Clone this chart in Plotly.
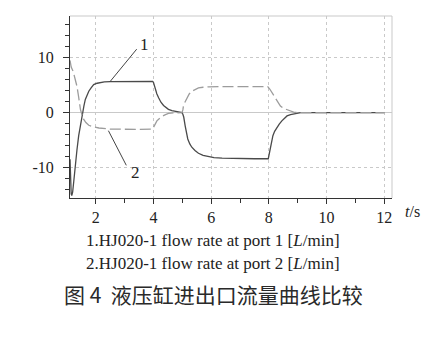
import plotly.graph_objects as go

# ---- data ----
t_port1 = [1.11, 1.13, 1.15, 1.17, 1.20, 1.24, 1.29, 1.35, 1.41, 1.47, 1.53, 1.59, 1.64, 1.70,
           1.76, 1.84, 1.93, 2.05, 2.16, 2.30, 2.50, 3.00, 3.50, 3.97, 4.00, 4.03, 4.06, 4.12,
           4.18, 4.26, 4.35, 4.44, 4.52, 4.64, 4.76, 4.88, 4.99, 5.02, 5.05, 5.10, 5.15, 5.19,
           5.26, 5.33, 5.44, 5.56, 5.72, 5.91, 6.10, 6.38, 7.00, 7.50, 7.98, 8.01, 8.05, 8.10,
           8.14, 8.20, 8.28, 8.36, 8.45, 8.54, 8.63, 8.75, 8.86, 9.00, 9.10, 9.50, 10.0, 11.0, 12.0]
q_port1 = [-8.5, -12.5, -14.8, -15.1, -14.5, -12.5, -9.6, -6.8, -4.2, -2.1, -0.3, 1.2, 2.4, 3.2,
           3.9, 4.5, 5.1, 5.35, 5.5, 5.6, 5.65, 5.7, 5.7, 5.7, 5.5, 4.9, 4.2, 3.4,
           2.7, 1.9, 1.3, 0.9, 0.6, 0.35, 0.2, 0.08, 0.0, -0.3, -0.8, -2.4, -3.8, -4.8,
           -5.7, -6.3, -6.9, -7.4, -7.8, -8.0, -8.2, -8.3, -8.4, -8.4, -8.4, -7.6, -6.9, -5.4,
           -4.2, -3.4, -2.7, -2.1, -1.5, -1.0, -0.6, -0.35, -0.2, -0.08, 0.0, 0.0, 0.0, 0.0, 0.0]

t_port2 = [1.11, 1.15, 1.22, 1.28, 1.35, 1.41, 1.47, 1.53, 1.58, 1.66, 1.76, 1.93, 2.11, 2.50,
           3.00, 3.50, 3.97, 4.04, 4.12, 4.20, 4.29, 4.40, 4.52, 4.70, 4.99, 5.02, 5.04, 5.10,
           5.16, 5.24, 5.33, 5.44, 5.56, 5.72, 5.91, 6.38, 7.00, 7.96, 8.03, 8.11, 8.23, 8.30,
           8.40, 8.50, 8.63, 8.75, 8.86, 9.00, 9.50, 10.0, 11.0, 12.0]
q_port2 = [9.5, 8.3, 7.5, 6.4, 4.8, 2.8, 0.6, -0.5, -1.2, -1.8, -2.3, -2.6, -2.8, -3.0,
           -3.05, -3.05, -3.0, -2.3, -1.5, -1.1, -0.7, -0.4, -0.15, -0.05, 0.0, 0.5, 1.2, 2.0,
           2.7, 3.4, 3.9, 4.25, 4.5, 4.62, 4.7, 4.75, 4.75, 4.75, 4.3, 3.6, 2.7, 2.0,
           1.2, 0.8, 0.5, 0.25, 0.08, 0.0, 0.0, 0.0, 0.0, 0.0]

x_ticks = [2, 4, 6, 8, 10, 12]
y_ticks = [-10, 0, 10]
y_tick_labels = ["-10", "0", "10"]

legend_line1 = "1.HJ020-1 flow rate at port 1 [<i>L</i>/min]"
legend_line2 = "2.HJ020-1 flow rate at port 2 [<i>L</i>/min]"
caption = "图 4  液压缸进出口流量曲线比较"

# ---- layout geometry (page body has an 8px margin, so figure origin is at (8, 8)) ----
OFF = 8
W, H = 434 - OFF, 360 - OFF
L, R, T, B = 70 - OFF, 391.7 - OFF, 16 - OFF, 198.5 - OFF


def px(xs):
    """screen x pixel -> paper x"""
    return (xs - OFF - L) / (R - L)


def py(ys):
    """screen y pixel -> paper y"""
    return (B - (ys - OFF)) / (B - T)


SERIF = "Liberation Serif"

fig = go.Figure()
fig.add_trace(go.Scatter(x=t_port1, y=q_port1, mode="lines",
                         line=dict(color="#4a4a4a", width=1.3), hoverinfo="skip"))
fig.add_trace(go.Scatter(x=t_port2, y=q_port2, mode="lines",
                         line=dict(color="#9c9c9c", width=1.3, dash="11px,4px"), hoverinfo="skip"))

grid = "#c9c9c9"
fig.update_layout(
    width=W, height=H,
    margin=dict(l=L, r=W - R, t=T, b=H - B, pad=0),
    plot_bgcolor="white", paper_bgcolor="white",
    showlegend=False,
    xaxis=dict(range=[1.109, 12.267], tickvals=x_ticks, showgrid=True, gridcolor=grid,
               griddash="dot", gridwidth=1, zeroline=False, showline=True, linecolor="#333",
               linewidth=1, ticks="outside", ticklen=5, tickcolor="#333",
               minor=dict(dtick=1, tick0=1, ticks="outside", ticklen=4, tickcolor="#333",
                          showgrid=False),
               tickfont=dict(family=SERIF, size=16, color="#222")),
    yaxis=dict(range=[-15.55, 17.6], tickvals=y_ticks, ticktext=y_tick_labels, showgrid=True,
               gridcolor=grid, griddash="dot", gridwidth=1, zeroline=True, zerolinecolor=grid,
               zerolinewidth=1, showline=True, linecolor="#333", linewidth=1, ticks="outside",
               ticklen=6, tickcolor="#333", ticklabelstandoff=6,
               minor=dict(dtick=2, tick0=0, ticks="outside", ticklen=4, tickcolor="#333",
                          showgrid=False),
               tickfont=dict(family=SERIF, size=16, color="#222")),
)

# top and right frame lines
fig.add_shape(type="line", xref="paper", yref="paper", x0=0, x1=1, y0=1, y1=1,
              line=dict(color=grid, width=1))
fig.add_shape(type="line", xref="paper", yref="paper", x0=1, x1=1, y0=0, y1=1,
              line=dict(color=grid, width=1))

# leader lines and curve labels
fig.add_shape(type="line", xref="x", yref="y", x0=3.42, y0=11.56, x1=2.50, y1=5.67,
              line=dict(color="#444", width=1))
fig.add_shape(type="line", xref="x", yref="y", x0=2.44, y0=-3.29, x1=3.06, y1=-9.6,
              line=dict(color="#444", width=1))
fig.add_annotation(x=3.68, y=12.35, xref="x", yref="y", text="1", showarrow=False,
                   xanchor="center", yanchor="middle",
                   font=dict(family=SERIF, size=17, color="#222"))
fig.add_annotation(x=3.37, y=-10.93, xref="x", yref="y", text="2", showarrow=False,
                   xanchor="center", yanchor="middle",
                   font=dict(family=SERIF, size=17, color="#222"))


def note(xs, ys, text, font):
    fig.add_annotation(x=px(xs), y=py(ys), xref="paper", yref="paper", text=text,
                       showarrow=False, xanchor="center", yanchor="middle", font=font)


note(412, 212, "<i>t</i>/s", dict(family=SERIF, size=16, color="#222"))
note(213, 241, legend_line1, dict(family=SERIF, size=17, color="#222"))
note(213, 264, legend_line2, dict(family=SERIF, size=17, color="#222"))
note(213.5, 295, caption, dict(family="Noto Sans CJK SC", size=21, color="#2a2a2a"))

# page-edge strip on the right
fig.add_shape(type="rect", xref="paper", yref="paper", x0=px(428.5), x1=px(440),
              y0=py(370), y1=py(-10), fillcolor="#e8e8e8", line=dict(color="#cfcfcf", width=1),
              layer="above")
fig.add_shape(type="rect", xref="paper", yref="paper", x0=px(428.5), x1=px(440),
              y0=py(267), y1=py(237), fillcolor="#f7f7f7", line=dict(color="#a8a8a8", width=1),
              layer="above")

fig.write_html("out.html")
